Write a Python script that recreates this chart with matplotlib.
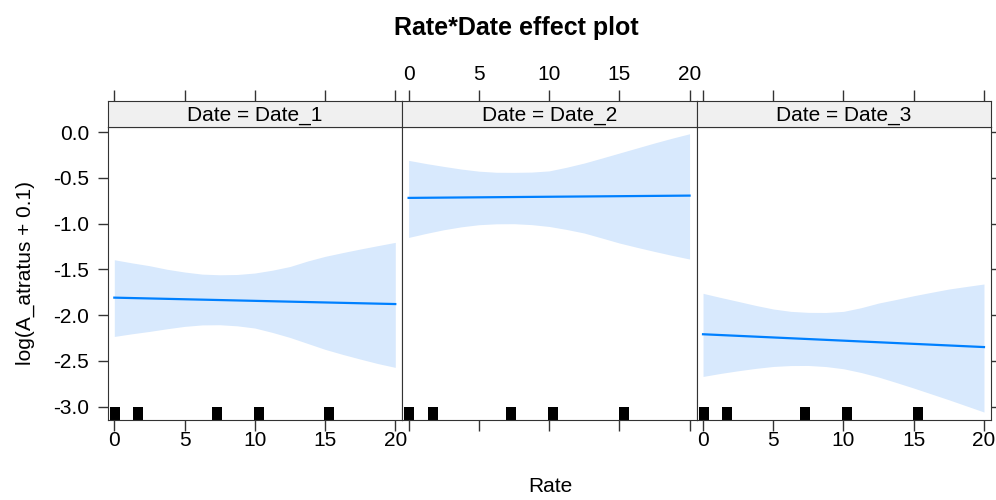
import matplotlib
matplotlib.use("Agg")
import matplotlib.pyplot as plt
import matplotlib.transforms as mtransforms

plt.rcParams['font.family'] = ['Liberation Sans', 'DejaVu Sans']
plt.rcParams['axes.unicode_minus'] = False

# data
dates = ['Date_1', 'Date_2', 'Date_3']
rate = [0, 1.25, 2.5, 3.75, 5, 6.25, 7.5, 8.75, 10,
        11.25, 12.5, 13.75, 15, 16.25, 17.5, 18.75, 20]
fit_rate = [0, 20]

fit_d1 = [-1.81, -1.88]
lower_d1 = [-2.234, -2.205, -2.179, -2.150, -2.124, -2.108, -2.106, -2.118, -2.142,
            -2.190, -2.245, -2.310, -2.375, -2.430, -2.481, -2.530, -2.572]
upper_d1 = [-1.396, -1.430, -1.461, -1.500, -1.530, -1.553, -1.560, -1.557, -1.541,
            -1.510, -1.470, -1.410, -1.359, -1.318, -1.279, -1.242, -1.206]

fit_d2 = [-0.72, -0.695]
lower_d2 = [-1.152, -1.108, -1.068, -1.036, -1.013, -1.003, -1.002, -1.012, -1.032,
            -1.065, -1.104, -1.158, -1.213, -1.260, -1.305, -1.348, -1.388]
upper_d2 = [-0.310, -0.345, -0.376, -0.405, -0.428, -0.440, -0.441, -0.438, -0.425,
            -0.385, -0.339, -0.285, -0.230, -0.175, -0.120, -0.068, -0.019]

fit_d3 = [-2.21, -2.35]
lower_d3 = [-2.671, -2.638, -2.609, -2.583, -2.562, -2.552, -2.551, -2.563, -2.587,
            -2.628, -2.678, -2.737, -2.798, -2.862, -2.926, -2.993, -3.060]
upper_d3 = [-1.763, -1.808, -1.851, -1.895, -1.934, -1.960, -1.971, -1.972, -1.960,
            -1.920, -1.869, -1.830, -1.789, -1.752, -1.716, -1.688, -1.661]

rug_x = [0.05, 1.72, 7.28, 10.27, 15.3]

x_ticks = [0, 5, 10, 15, 20]
y_ticks = [0.0, -0.5, -1.0, -1.5, -2.0, -2.5, -3.0]
y_ticklabels = ['0.0', '-0.5', '-1.0', '-1.5', '-2.0', '-2.5', '-3.0']

fits = [fit_d1, fit_d2, fit_d3]
lowers = [lower_d1, lower_d2, lower_d3]
uppers = [upper_d1, upper_d2, upper_d3]

line_col = '#0080FF'
band_col = '#D8E9FD'
frame_col = '#333333'
fs = 15

W, H = 996, 500
fig = plt.figure(figsize=(W / 100, H / 100), dpi=100)

lefts = [108, 402.3, 696.7]
pw = 294.3
top_px, bot_px, strip_top = 126.7, 420, 101

for i in range(3):
    ax = fig.add_axes([lefts[i] / W, 1 - bot_px / H, pw / W, (bot_px - top_px) / H])
    sx = fig.add_axes([lefts[i] / W, 1 - top_px / H, pw / W, (top_px - strip_top) / H])

    ax.fill_between(rate, lowers[i], uppers[i], color=band_col, lw=0)
    ax.plot(fit_rate, fits[i], color=line_col, lw=1.6)
    trans = mtransforms.blended_transform_factory(ax.transData, ax.transAxes)
    ax.vlines(rug_x, 0, 0.045, transform=trans, color='black', lw=7.2)

    ax.set_xlim(-0.45, 20.5)
    ax.set_ylim(-3.147, 0.058)
    ax.set_xticks(x_ticks)
    ax.set_yticks(y_ticks)
    ax.tick_params(axis='x', direction='out', length=8, width=1, color=frame_col,
                   labelsize=fs, pad=0, labelbottom=(i != 1))
    ax.tick_params(axis='y', direction='out', length=7.5, width=1, color=frame_col,
                   labelsize=fs, pad=6, left=(i == 0), labelleft=(i == 0),
                   right=(i == 2), labelright=False)
    if i == 0:
        ax.set_yticklabels(y_ticklabels)
    for s in ax.spines.values():
        s.set_color(frame_col)

    sx.set_facecolor('#F0F0F0')
    sx.set_xlim(-0.45, 20.5)
    sx.set_xticks(x_ticks)
    sx.set_yticks([])
    sx.xaxis.set_ticks_position('top')
    sx.tick_params(axis='x', direction='out', length=8, width=1, color=frame_col,
                   labelsize=fs, pad=4, labeltop=(i == 1), labelbottom=False)
    for s in sx.spines.values():
        s.set_color(frame_col)
    sx.text(0.5, 0.45, 'Date = ' + dates[i], transform=sx.transAxes,
            ha='center', va='center', fontsize=fs)

fig.text(516 / W, 1 - 28 / H, 'Rate*Date effect plot', ha='center', va='center',
         fontsize=18, fontweight='bold')
fig.text(550 / W, 1 - 487 / H, 'Rate', ha='center', va='center', fontsize=fs)
fig.text(25 / W, 1 - 273 / H, 'log(A_atratus + 0.1)', ha='center', va='center',
         rotation=90, fontsize=fs)

fig.savefig('out.png', dpi=100)
